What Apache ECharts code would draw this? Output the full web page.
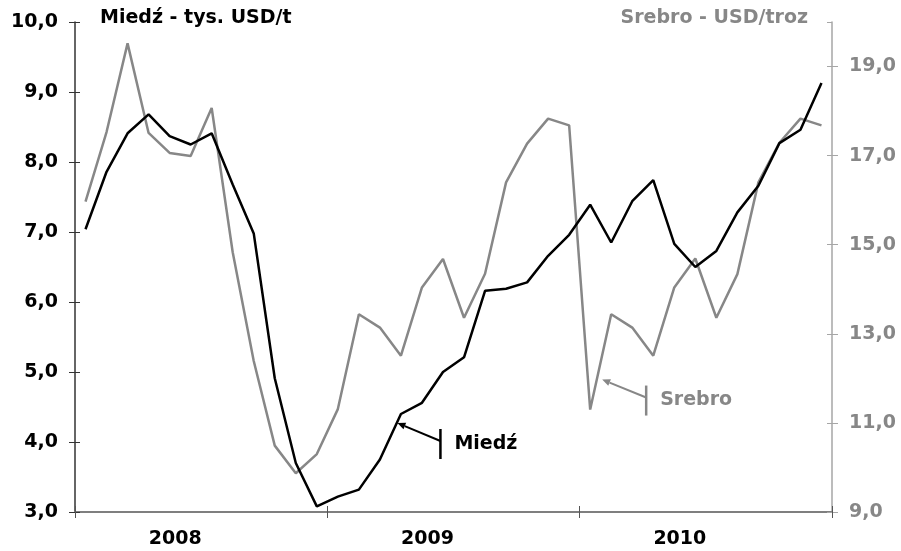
<!DOCTYPE html>
<html>
<head>
<meta charset="utf-8">
<script src="https://cdn.jsdelivr.net/npm/echarts@6/dist/echarts.min.js"></script>
<style>
  html, body { margin: 0; padding: 0; background: #fff; }
  #chart { width: 901px; height: 551px; }
</style>
</head>
<body>
<div id="chart"></div>
<script>
// monthly data, 2008-2010
const months = [
  '01.2008', '02.2008', '03.2008', '04.2008', '05.2008', '06.2008',
  '07.2008', '08.2008', '09.2008', '10.2008', '11.2008', '12.2008',
  '01.2009', '02.2009', '03.2009', '04.2009', '05.2009', '06.2009',
  '07.2009', '08.2009', '09.2009', '10.2009', '11.2009', '12.2009',
  '01.2010', '02.2010', '03.2010', '04.2010', '05.2010', '06.2010',
  '07.2010', '08.2010', '09.2010', '10.2010', '11.2010', '12.2010'
];
const years = [ '2008', '2009', '2010' ];

// Miedź - tys. USD/t (left axis)
const copper = [
  7.04, 7.86, 8.41, 8.68, 8.37, 8.25, 8.41, 7.68, 6.98, 4.91, 3.70, 3.08,
  3.22, 3.32, 3.75, 4.40, 4.56, 5.00, 5.21, 6.16, 6.19, 6.28, 6.66, 6.96,
  7.39, 6.85, 7.44, 7.74, 6.83, 6.50, 6.73, 7.28, 7.66, 8.27, 8.46, 9.13
];

// Srebro - USD/troz (right axis)
const silver = [
  15.97, 17.53, 19.52, 17.51, 17.06, 16.99, 18.07, 14.83, 12.39, 10.49, 9.87, 10.30,
  11.31, 13.44, 13.14, 12.51, 14.04, 14.68, 13.36, 14.35, 16.40, 17.27, 17.83, 17.68,
  11.30, 13.44, 13.14, 12.51, 14.04, 14.69, 13.36, 14.34, 16.40, 17.29, 17.83, 17.68
];

const FONT = 'DejaVu Sans';
const FS = 19;
const GREY = '#878787';
const comma = ( v ) => v.toFixed( 1 ).replace( '.', ',' );

const chart = echarts.init( document.getElementById( 'chart' ), null, { renderer: 'canvas' } );

// ticks in the original cross the axis line, so each axis gets an
// inner twin that only draws the inside half of the tick
const leftAxis = { type: 'value', min: 3, max: 10, interval: 1, position: 'left', splitLine: { show: false } };
const rightAxis = { type: 'value', min: 9, max: 20, interval: 2, position: 'right', splitLine: { show: false } };

chart.setOption( {
  animation: false,
  backgroundColor: '#fff',
  textStyle: { fontFamily: FONT },
  title: [
    {
      text: 'Miedź - tys. USD/t', left: 100, top: 9, padding: 0,
      textStyle: { fontFamily: FONT, fontSize: FS, fontWeight: 'bold', color: '#000' }
    },
    {
      text: 'Srebro - USD/troz', right: 93, top: 9, padding: 0,
      textStyle: { fontFamily: FONT, fontSize: FS, fontWeight: 'bold', color: GREY }
    }
  ],
  grid: { left: 75, right: 69, top: 22, bottom: 39, containLabel: false },
  xAxis: [
    {
      type: 'category',
      data: months,
      position: 'bottom',
      boundaryGap: true,
      axisLine: { lineStyle: { color: '#7f7f7f', width: 2 } },
      axisTick: { show: true, interval: 11, length: 6, lineStyle: { color: '#555', width: 1 } },
      axisLabel: { show: false },
      splitLine: { show: false }
    },
    {
      type: 'category',
      data: years,
      position: 'bottom',
      boundaryGap: true,
      axisLine: { show: false },
      axisTick: { show: false },
      axisLabel: {
        margin: 18, padding: [ 0, 52, 0, 0 ],
        fontFamily: FONT, fontSize: FS, fontWeight: 'bold', color: '#000'
      },
      splitLine: { show: false }
    },
    {
      type: 'category',
      data: months,
      position: 'bottom',
      boundaryGap: true,
      axisLine: { show: false },
      axisTick: { show: true, inside: true, interval: 11, length: 6, lineStyle: { color: '#555', width: 1 } },
      axisLabel: { show: false },
      splitLine: { show: false }
    }
  ],
  yAxis: [
    {
      ...leftAxis,
      axisLine: { show: true, lineStyle: { color: '#333', width: 1.5 } },
      axisTick: { show: true, length: 6, lineStyle: { color: '#333' } },
      axisLabel: {
        margin: 17, formatter: comma,
        fontFamily: FONT, fontSize: FS, fontWeight: 'bold', color: '#000'
      }
    },
    {
      ...rightAxis,
      axisLine: { show: true, lineStyle: { color: '#a6a6a6', width: 1.5 } },
      axisTick: { show: true, length: 6, lineStyle: { color: '#a6a6a6' } },
      axisLabel: {
        margin: 17, showMaxLabel: false,
        formatter: ( v ) => ( v >= 20 ? '' : comma( v ) ),
        fontFamily: FONT, fontSize: FS, fontWeight: 'bold', color: GREY
      }
    },
    {
      ...leftAxis,
      axisLine: { show: false },
      axisTick: { show: true, inside: true, length: 5, lineStyle: { color: '#333' } },
      axisLabel: { show: false }
    },
    {
      ...rightAxis,
      axisLine: { show: false },
      axisTick: { show: true, inside: true, length: 5, lineStyle: { color: '#a6a6a6' } },
      axisLabel: { show: false, showMaxLabel: false }
    }
  ],
  series: [
    {
      name: 'Srebro',
      type: 'line',
      xAxisIndex: 0, yAxisIndex: 1,
      data: silver,
      symbol: 'none',
      lineStyle: { color: GREY, width: 2.5 },
      z: 2
    },
    {
      name: 'Miedź',
      type: 'line',
      xAxisIndex: 0, yAxisIndex: 0,
      data: copper,
      symbol: 'none',
      lineStyle: { color: '#000', width: 2.5 },
      z: 3
    }
  ]
} );

// callout: arrow from a bracket bar to a point near the line
function callout( anchor, tipOff, endOff, label, color ) {
  const tip = [ anchor[0] + tipOff[0], anchor[1] + tipOff[1] ];
  const end = [ anchor[0] + endOff[0], anchor[1] + endOff[1] ];
  const dx = tip[0] - end[0];
  const dy = tip[1] - end[1];
  const len = Math.sqrt( dx * dx + dy * dy );
  const ux = dx / len, uy = dy / len;
  const head = 8, half = 3.5;
  const bx = tip[0] - ux * head, by = tip[1] - uy * head;

  return [
    {
      type: 'line',
      shape: { x1: end[0], y1: end[1], x2: bx, y2: by },
      style: { stroke: color, lineWidth: 2 }
    },
    {
      type: 'polygon',
      shape: { points: [ tip, [ bx - uy * half, by + ux * half ], [ bx + uy * half, by - ux * half ] ] },
      style: { fill: color }
    },
    {
      type: 'line',
      shape: { x1: end[0], y1: end[1] - 12, x2: end[0], y2: end[1] + 18 },
      style: { stroke: color, lineWidth: 2.5 }
    },
    {
      type: 'text',
      x: end[0] + 14, y: end[1] + 3,
      style: {
        text: label, fill: color,
        font: 'bold ' + FS + 'px "DejaVu Sans"',
        verticalAlign: 'middle'
      }
    }
  ];
}

const cuPt = chart.convertToPixel( { seriesIndex: 1 }, [ 15, copper[15] ] );
const agPt = chart.convertToPixel( { seriesIndex: 0 }, [ 24, silver[24] ] );

chart.setOption( {
  graphic: [
    ...callout( cuPt, [ -3.5, 9 ], [ 39.5, 27 ], 'Miedź', '#000' ),
    ...callout( agPt, [ 12, -30 ], [ 56, -12 ], 'Srebro', GREY )
  ]
} );
</script>
</body>
</html>
